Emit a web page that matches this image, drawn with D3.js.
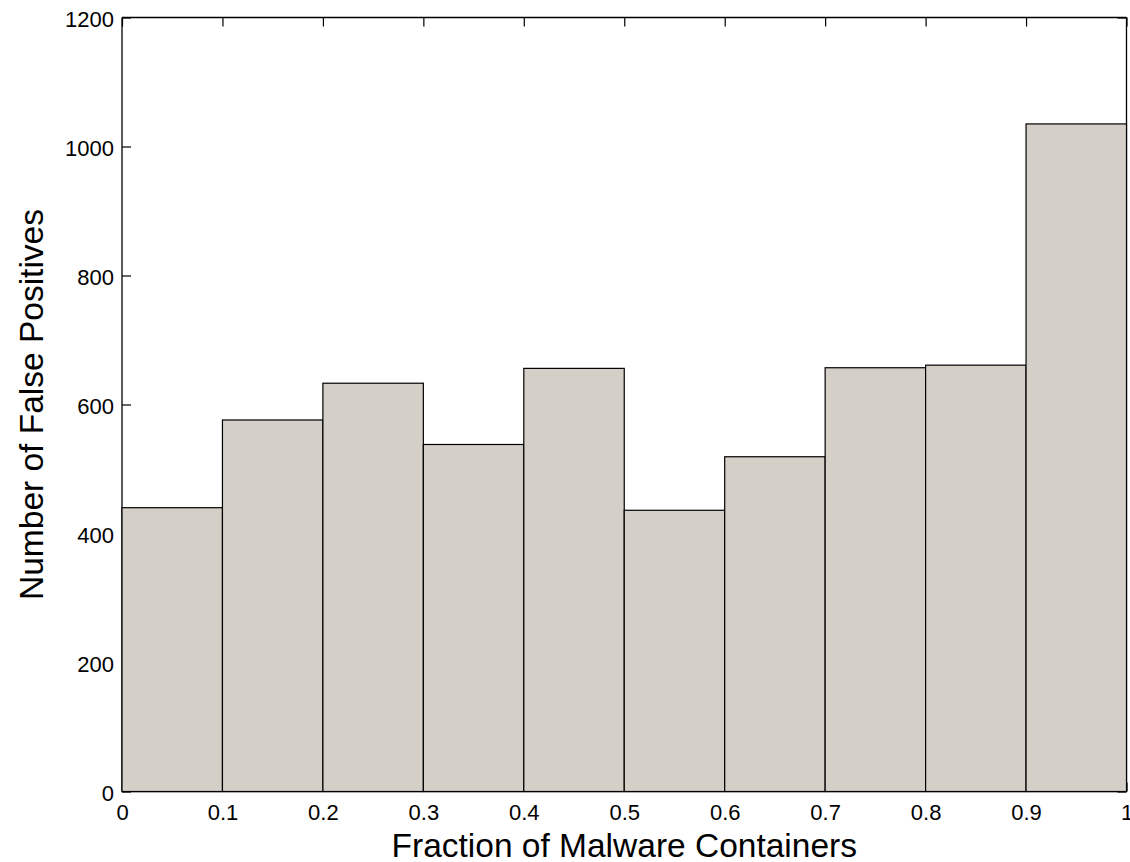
<!DOCTYPE html>
<html><head><meta charset="utf-8">
<script src="https://cdn.jsdelivr.net/npm/d3@7"></script>
<style>body{margin:0;background:#fff}svg{display:block}text{font-family:"Liberation Sans",Arial,Helvetica,sans-serif;fill:#000}</style>
</head><body>
<script>
const binStarts = [0, 0.1, 0.2, 0.3, 0.4, 0.5, 0.6, 0.7, 0.8, 0.9];
const binWidth = 0.1;
const counts = [440, 576, 633, 538, 656, 436, 519, 657, 661, 1035];
const xTicks = [0, 0.1, 0.2, 0.3, 0.4, 0.5, 0.6, 0.7, 0.8, 0.9, 1];
const yTicks = [0, 200, 400, 600, 800, 1000, 1200];
const xLabel = "Fraction of Malware Containers";
const yLabel = "Number of False Positives";

const W = 1130, H = 862;
const m = {left: 122, top: 17.5, right: 1126.5, bottom: 791.5};
const svg = d3.select("body").append("svg").attr("width", W).attr("height", H);
const x = d3.scaleLinear().domain([0, 1]).range([m.left, m.right]);
const y = d3.scaleLinear().domain([0, 1200]).range([m.bottom, m.top]);

const tl = 9;
const fmtX = d => String(+d.toFixed(1));
const fmtY = d => String(d);
const gx = svg.append("g").attr("transform", `translate(0,${m.bottom})`)
  .call(d3.axisBottom(x).tickValues(xTicks).tickSize(-tl).tickPadding(13).tickFormat(fmtX));
const gxt = svg.append("g").attr("transform", `translate(0,${m.top})`)
  .call(d3.axisTop(x).tickValues(xTicks).tickSize(-tl).tickFormat(""));
const gy = svg.append("g").attr("transform", `translate(${m.left},0)`)
  .call(d3.axisLeft(y).tickValues(yTicks).tickSize(-tl).tickPadding(8).tickFormat(fmtY));
const gyr = svg.append("g").attr("transform", `translate(${m.right},0)`)
  .call(d3.axisRight(y).tickValues(yTicks).tickSize(-tl).tickFormat(""));
[gx, gxt, gy, gyr].forEach(g => {
  g.attr("font-size", null).attr("font-family", null);
  g.selectAll("path").attr("stroke", "#000").attr("stroke-width", 1.3);
  g.selectAll("line").attr("stroke", "#000").attr("stroke-width", 1.2);
  g.selectAll("text").style("font-size", "22px").attr("fill", "#000");
});
gy.selectAll("text").attr("dy", "0.4em");
gx.selectAll(".domain").attr("d", `M${m.left},0H${m.right}`);
gxt.selectAll(".domain").attr("d", `M${m.left},0H${m.right}`);
gy.selectAll(".domain").attr("d", `M0,${m.bottom}V${m.top}`);
gyr.selectAll(".domain").attr("d", `M0,${m.bottom}V${m.top}`);

// bars drawn after the axes so the inward ticks sit behind them
svg.append("g").selectAll("rect").data(counts).join("rect")
  .attr("x", (d, i) => x(binStarts[i]))
  .attr("width", (d, i) => x(binStarts[i] + binWidth) - x(binStarts[i]))
  .attr("y", d => y(d))
  .attr("height", d => y(0) - y(d))
  .attr("fill", "#d4d0c8").attr("stroke", "#000").attr("stroke-width", 1.2);

svg.append("text").attr("x", (m.left + m.right) / 2).attr("y", 857)
  .attr("text-anchor", "middle").style("font-size", "33.5px").text(xLabel);
svg.append("text").attr("transform", `translate(43,${(m.top + m.bottom) / 2}) rotate(-90)`)
  .attr("text-anchor", "middle").style("font-size", "33.5px").text(yLabel);
</script>
</body></html>
